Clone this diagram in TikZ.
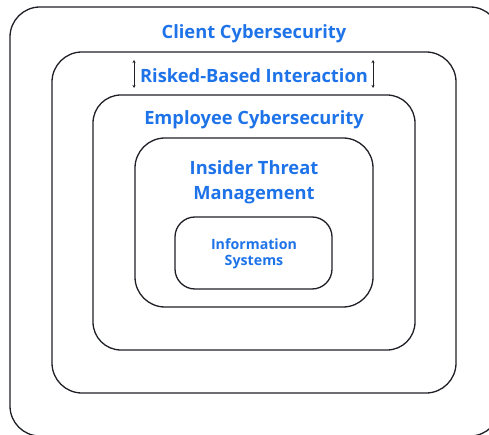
\documentclass[tikz,border=0pt]{standalone}
\usepackage{fontspec}
\setmainfont{Open Sans}
\usetikzlibrary{arrows.meta}
\definecolor{layerblue}{RGB}{30,115,232}
\definecolor{edge}{RGB}{30,32,38}
\tikzset{
  layer/.style={draw=edge, line width=1.3pt, rounded corners=#1},
  layer/.default=30pt,
  title/.style={text=layerblue, font=\fontsize{18.3}{25}\selectfont\bfseries, align=center, inner sep=0pt},
  small title/.style={text=layerblue, font=\fontsize{14.2}{15.5}\selectfont\bfseries, align=center, inner sep=0pt},
  span arrow/.style={{Stealth[length=3pt,width=3pt]}-{Stealth[length=3pt,width=3pt]}, line width=0.7pt, draw=edge}
}
\begin{document}
\begin{tikzpicture}[x=1pt,y=-1pt]
\useasboundingbox (0,0) rectangle (489,435);
% nested layers, outermost first
\draw[layer=30pt] (10,7) rectangle (500,436);
\draw[layer=30pt] (52,52) rectangle (456,393);
\draw[layer=28pt] (93,95) rectangle (415,350);
\draw[layer=30pt] (135,138) rectangle (373,307);
\draw[layer=20pt] (175,217) rectangle (332,289);
% labels
\node[title] (client) at (254,34) {Client Cybersecurity};
\node[title] (risk) at (254,76) {Risked-Based Interaction};
\node[title] (employee) at (254,120) {Employee Cybersecurity};
\node[title] (insider) at (254,182) {Insider Threat\\Management};
\node[small title] (info) at (254,254) {Information\\Systems};
% arrows flanking the interaction label
\coordinate (la) at (134,60);
\coordinate (lb) at (134,88);
\coordinate (ra) at (373,60);
\coordinate (rb) at (373,88);
\draw[span arrow] (la) -- (lb);
\draw[span arrow] (ra) -- (rb);
\end{tikzpicture}
\end{document}
